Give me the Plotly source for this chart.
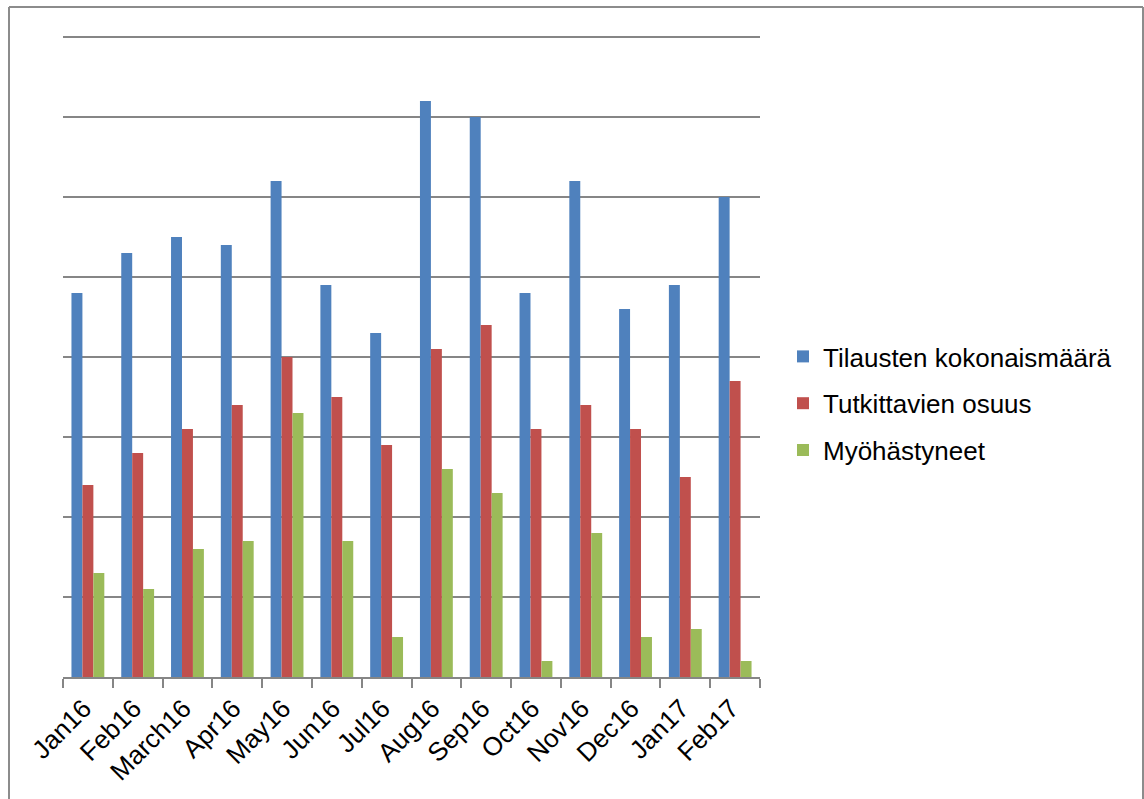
import plotly.graph_objects as go

# Monthly categories
months = ["Jan16", "Feb16", "March16", "Apr16", "May16", "Jun16", "Jul16",
          "Aug16", "Sep16", "Oct16", "Nov16", "Dec16", "Jan17", "Feb17"]

# Series values
tilaukset = [48, 53, 55, 54, 62, 49, 43, 72, 70, 48, 62, 46, 49, 60]
tutkittavat = [24, 28, 31, 34, 40, 35, 29, 41, 44, 31, 34, 31, 25, 37]
myohastyneet = [13, 11, 16, 17, 33, 17, 5, 26, 23, 2, 18, 5, 6, 2]

series_names = ["Tilausten kokonaismäärä", "Tutkittavien osuus", "Myöhästyneet"]
series_colors = ["#4F81BD", "#C0504D", "#9BBB59"]

Y_MAX = 80
W, H = 1144, 799
ML, MR, MT, MB = 63, 384, 37, 122
FONT = "Liberation Sans, Arial, sans-serif"
GRID = "#868686"

fig = go.Figure()
for name, vals, col in zip(series_names, [tilaukset, tutkittavat, myohastyneet], series_colors):
    fig.add_trace(go.Bar(
        x=months, y=vals, name=name, legendgroup=name,
        marker=dict(color=col, line=dict(width=0)),
    ))

pw = W - ML - MR
ph = H - MT - MB

def px_x(p):
    return (p - ML) / pw

def px_y(p):
    return (H - MB - p) / ph

# outer frame around the chart area
frame = dict(color="#8c8c8c", width=2)
shapes = [
    dict(type="line", xref="paper", yref="paper",
         x0=px_x(9), x1=px_x(9), y0=px_y(7), y1=px_y(820), line=frame),
    dict(type="line", xref="paper", yref="paper",
         x0=px_x(9), x1=px_x(1143), y0=px_y(7), y1=px_y(7), line=frame),
    dict(type="line", xref="paper", yref="paper",
         x0=px_x(1143), x1=px_x(1143), y0=px_y(7), y1=px_y(820), line=frame),
    # top gridline at the end of the value range
    dict(type="line", xref="paper", yref="paper", layer="below",
         x0=0, x1=1, y0=1, y1=1, line=dict(color=GRID, width=2)),
]

fig.update_layout(
    width=W, height=H,
    margin=dict(l=ML, r=MR, t=MT, b=MB, pad=0),
    paper_bgcolor="white", plot_bgcolor="white",
    barmode="group", bargap=0.34, bargroupgap=0,
    font=dict(family=FONT, size=26, color="black"),
    showlegend=True,
    legend=dict(
        x=px_x(783), y=px_y(333), xanchor="left", yanchor="top",
        font=dict(family=FONT, size=26, color="black"),
        tracegroupgap=10, itemwidth=30, bgcolor="rgba(0,0,0,0)",
    ),
    xaxis=dict(
        type="category", showgrid=False, showline=True, linecolor=GRID,
        linewidth=2, ticks="outside", tickson="boundaries", ticklen=9,
        tickcolor=GRID, tickwidth=2, tickangle=-45,
        ticklabelstandoff=4, ticklabelshift=-4,
        tickfont=dict(family=FONT, size=26, color="black"),
    ),
    yaxis=dict(
        range=[0, Y_MAX], dtick=10, showgrid=True, gridcolor=GRID,
        gridwidth=2, showticklabels=False, zeroline=False, showline=False,
        ticks="",
    ),
    shapes=shapes,
)

fig.write_html("out.html")
